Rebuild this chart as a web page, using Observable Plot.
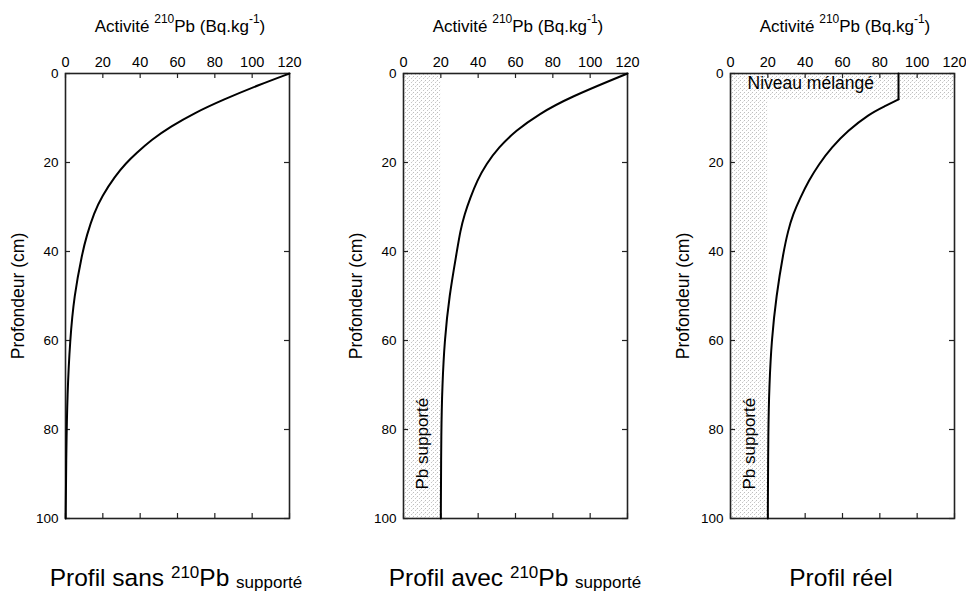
<!DOCTYPE html>
<html>
<head>
<meta charset="utf-8">
<script src="https://cdn.jsdelivr.net/npm/d3@7"></script>
<script src="https://cdn.jsdelivr.net/npm/@observablehq/plot@0.6"></script>
<style>
  body { margin: 0; background: #fff; }
  #wrap { position: relative; width: 966px; height: 592px; overflow: hidden;
          font-family: "Liberation Sans", Arial, sans-serif; color: #000; }
  .panel { position: absolute; top: 0; }
  .panel svg { overflow: visible; }
  .xt { position: absolute; top: 18px; width: 300px; text-align: center; font-size: 17px; line-height: 17px; white-space: nowrap; }
  .xt .up { font-size: 12px; position: relative; top: -9px; }
  .yt { position: absolute; width: 220px; height: 18px; text-align: center; font-size: 17.5px; line-height: 18px; white-space: nowrap; transform: rotate(-90deg); }
  .bt { position: absolute; top: 565px; width: 380px; text-align: center; font-size: 24.5px; line-height: 25px; white-space: nowrap; }
  .bt .up { font-size: 17px; position: relative; top: -8px; }
  .bt .dn { font-size: 17px; position: relative; top: 2px; }
</style>
</head>
<body>
<svg width="0" height="0" style="position:absolute">
  <defs>
    <pattern id="stipple" width="4" height="4" patternUnits="userSpaceOnUse">
      <rect width="4" height="4" fill="#ffffff"></rect>
      <rect x="3" y="0" width="1" height="1" fill="#bdbdbd"></rect>
      <rect x="1" y="2" width="1" height="1" fill="#c6c6c6"></rect>
      <rect x="2" y="1" width="1" height="1" fill="#e6e6e6"></rect>
    </pattern>
  </defs>
</svg>
<div id="wrap"></div>
<script>
// ---- data ----
const xTicks = [0, 20, 40, 60, 80, 100, 120];
const yTicks = [0, 20, 40, 60, 80, 100];
const maxActivity = 120;
const maxDepth = 100;
const supportedActivity = 20;
const mixedDepth = 5.8;

// Profil sans 210Pb supporté
const depth1    = [0, 2.5, 5.9, 8.9, 11.9, 14.9, 17.9, 20.1, 23.1, 27.6, 31.3, 36.5, 40.3, 50, 60, 72, 85, 100];
const activity1 = [120, 104, 84.4, 69, 56.5, 46, 38, 32.5, 26.5, 19.5, 15.3, 11.3, 9, 4.6, 2.4, 1, 0.4, 0.1];
// Profil avec 210Pb supporté
const depth2    = [0, 5.4, 9.1, 12.9, 16.6, 20.4, 24.1, 27.9, 31.6, 35.4, 40, 50, 60, 70, 80, 100];
const activity2 = [120, 88.7, 72.6, 60, 51, 44.2, 39.4, 35.8, 32.7, 30.4, 28.6, 24.5, 22, 20.8, 20.2, 20];
// Profil réel (first point: top of the mixed layer)
const depth3    = [0, 5.8, 7.5, 9.1, 12.9, 16.6, 20.4, 24.1, 27.9, 31.6, 35.4, 40, 50, 60, 70, 80, 100];
const activity3 = [90, 90, 82, 74.4, 62.7, 54.2, 47.3, 41.9, 37.4, 33.5, 30.8, 28.4, 24.5, 22, 20.8, 20.2, 20];

const axisTitle = 'Activité <span class="up">210</span>Pb (Bq.kg<span class="up">-1</span>)';
const depthTitle = "Profondeur (cm)";
const panelTitles = [
  'Profil sans <span class="up">210</span>Pb <span class="dn">supporté</span>',
  'Profil avec <span class="up">210</span>Pb <span class="dn">supporté</span>',
  'Profil réel'
];
const supportedLabel = "Pb supporté";
const mixedLabel = "Niveau mélangé";

// ---- layout ----
const panelLefts = [0, 338, 665];
const mL = 65, mT = 73, mB = 12, plotW = 224, W = 300, H = 530;
const plotH = H - mT - mB;

function toRows(depth, act) { return depth.map((z, i) => ({z, v: act[i]})); }

function makePanel(i) {
  const marks = [];
  const rects = [];
  if (i >= 1) rects.push({x1: 0, x2: supportedActivity, y1: 0, y2: maxDepth});
  if (i === 2) rects.push({x1: 0, x2: maxActivity, y1: 0, y2: mixedDepth});
  rects.forEach(r => marks.push(Plot.rect([r], {x1: "x1", x2: "x2", y1: "y1", y2: "y2", fill: "url(#stipple)"})));

  // inward ticks on all four sides
  marks.push(Plot.tickX(xTicks, {x: d => d, insetBottom: plotH - 5, stroke: "#222", strokeWidth: 1.2}));
  marks.push(Plot.tickX(xTicks, {x: d => d, insetTop: plotH - 5, stroke: "#222", strokeWidth: 1.2}));
  marks.push(Plot.tickY(yTicks, {y: d => d, insetRight: plotW - 5, stroke: "#222", strokeWidth: 1.2}));
  marks.push(Plot.tickY(yTicks, {y: d => d, insetLeft: plotW - 5, stroke: "#222", strokeWidth: 1.2}));
  marks.push(Plot.frame({stroke: "#222", strokeWidth: 1.6}));

  marks.push(Plot.axisX(xTicks, {anchor: "top", tickSize: 0, tickPadding: 7, fontSize: 14.5, label: null}));
  marks.push(Plot.axisY(yTicks, {anchor: "left", tickSize: 0, tickPadding: 7, fontSize: 13.5, label: null}));

  const lineStyle = {x: "v", y: "z", stroke: "#000", strokeWidth: 2};
  if (i === 0) {
    marks.push(Plot.line(toRows(depth1, activity1), {...lineStyle, curve: "basis"}));
  } else if (i === 1) {
    marks.push(Plot.line(toRows(depth2, activity2), {...lineStyle, curve: "basis"}));
  } else {
    const rows = toRows(depth3, activity3);
    marks.push(Plot.line(rows.slice(0, 2), lineStyle));
    marks.push(Plot.line(rows.slice(1), {...lineStyle, curve: "basis"}));
    marks.push(Plot.text([mixedLabel], {frameAnchor: "top-left", text: d => d, dx: 17, dy: 10, textAnchor: "start", lineAnchor: "middle", fontSize: 17.5, fill: "#000"}));
  }
  if (i >= 1) {
    marks.push(Plot.text([supportedLabel], {x: supportedActivity / 2, frameAnchor: "bottom", text: d => d, dy: -29, rotate: -90, textAnchor: "start", lineAnchor: "middle", fontSize: 17, fill: "#000"}));
  }

  return Plot.plot({
    width: W, height: H,
    marginLeft: mL, marginRight: W - mL - plotW, marginTop: mT, marginBottom: mB,
    style: {fontFamily: "Liberation Sans, Arial, sans-serif", color: "#000", background: "transparent", overflow: "visible"},
    x: {domain: [0, maxActivity]},
    y: {domain: [0, maxDepth], reverse: true},
    marks
  });
}

const wrap = document.getElementById("wrap");
const titleCenters = [176, 515, 841];
panelLefts.forEach((left, i) => {
  const div = document.createElement("div");
  div.className = "panel";
  div.style.left = left + "px";
  div.appendChild(makePanel(i));
  wrap.appendChild(div);

  const frameCenter = left + mL + plotW / 2;
  const xt = document.createElement("div");
  xt.className = "xt";
  xt.innerHTML = axisTitle;
  xt.style.left = (frameCenter + 3 - 150) + "px";
  wrap.appendChild(xt);

  const yt = document.createElement("div");
  yt.className = "yt";
  yt.textContent = depthTitle;
  yt.style.left = (left + 18 - 110) + "px";
  yt.style.top = (mT + plotH / 2 - 9) + "px";
  wrap.appendChild(yt);

  const bt = document.createElement("div");
  bt.className = "bt";
  bt.innerHTML = panelTitles[i];
  bt.style.left = (titleCenters[i] - 190) + "px";
  wrap.appendChild(bt);
});
</script>
</body>
</html>
